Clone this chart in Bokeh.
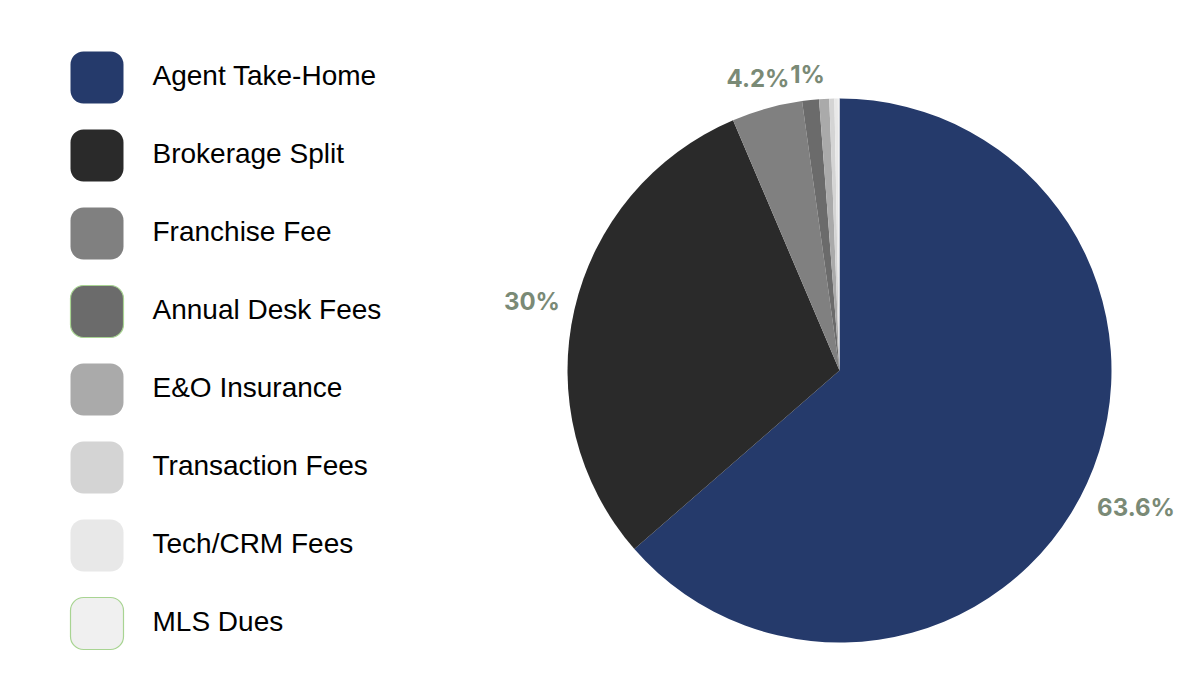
import math
from bokeh.plotting import figure
from bokeh.models import ColumnDataSource, BoxAnnotation, Range1d
from bokeh.core.properties import value
from bokeh.embed import file_html
from bokeh.resources import INLINE

# ---- data ----
categories = ["Agent Take-Home", "Brokerage Split", "Franchise Fee", "Annual Desk Fees",
              "E&O Insurance", "Transaction Fees", "Tech/CRM Fees", "MLS Dues"]
shares = [63.6, 30.0, 4.2, 1.0, 0.6, 0.3, 0.2, 0.1]
labels = ["63.6%", "30%", "4.2%", "1%", "", "", "", ""]
colors = ["#253a6b", "#2a2a2a", "#808080", "#6b6b6b", "#aaaaaa", "#d4d4d4", "#e8e8e8", "#f0f0f0"]
legend_borders = [None, None, None, "#a8d492", None, None, None, "#a8d492"]

W, H = 1184, 684
p = figure(width=W, height=H, output_backend="svg", toolbar_location=None,
           x_range=Range1d(0, W), y_range=Range1d(0, H), min_border=0)
p.axis.visible = False
p.grid.visible = False
p.outline_line_color = None
p.background_fill_color = "white"
p.border_fill_color = "white"

# pie geometry (screen-ish coordinates, y up)
cx, cy, R = 839, H - 370, 272
total = sum(shares)
starts, ends = [], []
cum = 0.0
for s in shares:
    starts.append(math.pi / 2 - 2 * math.pi * cum / total)
    cum += s
    ends.append(math.pi / 2 - 2 * math.pi * cum / total)

src = ColumnDataSource(dict(x=[cx] * len(shares), y=[cy] * len(shares),
                            start=starts, end=ends, color=colors))
p.wedge(x="x", y="y", radius=R, radius_units="screen", start_angle="start",
        end_angle="end", direction="clock", fill_color="color", line_color=None, source=src)

# labels outside slices
char_w = {".": 7, "%": 22}
lx, ly, lt = [], [], []
for s0, e0, lab in zip(starts, ends, labels):
    if not lab:
        continue
    mid = (s0 + e0) / 2
    dx, dy = math.cos(mid), math.sin(mid)
    w = sum(char_w.get(c, 15) for c in lab)
    h = 20
    ext = abs(dx) * w / 2 + abs(dy) * h / 2
    rr = R + 16 + ext
    lx.append(cx + rr * dx)
    ly.append(cy + rr * dy - 2)
    lt.append(lab)
p.text(x=lx, y=ly, text=lt, text_align="center", text_baseline="middle",
       text_font=value("Inter"), text_font_style="bold", text_font_size="24px",
       text_color="#7a8a76")

# legend
row0, step = H - 77, 78
tx, ty, tt = [], [], []
for i, (cat, col, bd) in enumerate(zip(categories, colors, legend_borders)):
    yc = row0 - i * step
    box = BoxAnnotation(left=70, right=123, top=yc + 26, bottom=yc - 26,
                        fill_color=col, fill_alpha=1.0,
                        line_color=bd, line_alpha=1.0, line_width=1.2 if bd else 0,
                        border_radius=13, level="underlay")
    p.add_layout(box)
    tx.append(152)
    ty.append(yc + 2)
    tt.append(cat)
p.text(x=tx, y=ty, text=tt, text_align="left", text_baseline="middle",
       text_font=value("Liberation Sans"), text_font_size="28px", text_color="#000000")

open("out.html", "w").write(file_html(p, INLINE))
